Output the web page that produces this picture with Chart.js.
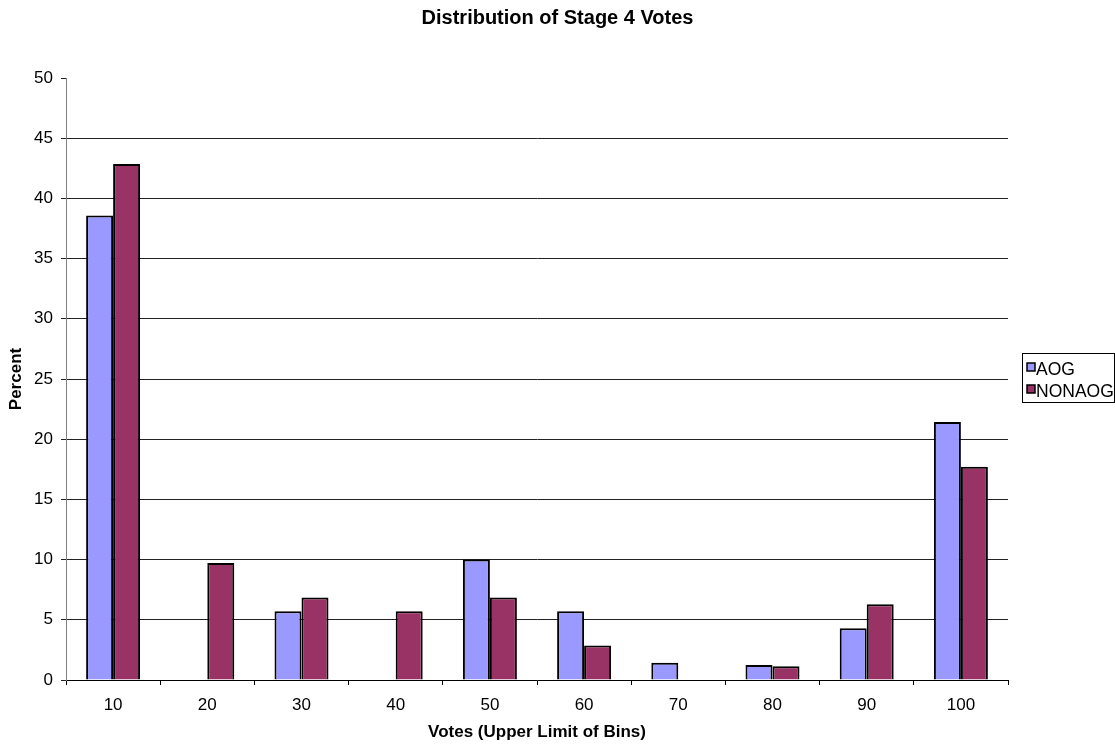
<!DOCTYPE html>
<html>
<head>
<meta charset="utf-8">
<script src="https://cdn.jsdelivr.net/npm/chart.js@4/dist/chart.umd.min.js"></script>
<style>
  html, body { margin: 0; padding: 0; background: #fff; }
  #wrap { width: 1115px; height: 746px; }
</style>
</head>
<body>
<div id="wrap"><canvas id="c" width="1115" height="746"></canvas></div>
<script>
// Bin upper limits (x categories)
const binLabels = ['10', '20', '30', '40', '50', '60', '70', '80', '90', '100'];
// Percent of votes per bin
const aogPercent    = [38.57, 0, 5.71, 0, 10.0, 5.71, 1.43, 1.25, 4.29, 21.43];
const nonaogPercent = [42.86, 9.71, 6.86, 5.71, 6.86, 2.86, 0, 1.14, 6.29, 17.71];
const seriesNames = ['AOG', 'NONAOG'];
const seriesColors = ['#9999FF', '#993366'];
const chartTitle = 'Distribution of Stage 4 Votes';

const FONT = "'Liberation Sans', Arial, sans-serif";

// Title centred on the full canvas width
const pageTitle = {
  id: 'pageTitle',
  afterDraw(chart) {
    const ctx = chart.ctx;
    ctx.save();
    ctx.font = 'bold 20px ' + FONT;
    ctx.fillStyle = '#000';
    ctx.textAlign = 'center';
    ctx.textBaseline = 'middle';
    ctx.fillText(chartTitle, chart.width / 2, 18);
    ctx.restore();
  }
};

// Boxed legend on the right, drawn from the datasets
const boxedLegend = {
  id: 'boxedLegend',
  afterDraw(chart) {
    const ctx = chart.ctx;
    const x0 = 1022, y0 = 353, w = 92, h = 49;
    ctx.save();
    ctx.strokeStyle = '#000';
    ctx.lineWidth = 1;
    ctx.strokeRect(x0 + 0.5, y0 + 0.5, w, h);
    ctx.font = '17.5px ' + FONT;
    ctx.textBaseline = 'alphabetic';
    ctx.textAlign = 'left';
    chart.data.datasets.forEach((ds, i) => {
      const rowBase = 375 + i * 22;
      ctx.fillStyle = ds.backgroundColor;
      ctx.fillRect(1027, rowBase - 12, 8, 8);
      ctx.strokeStyle = '#000';
      ctx.lineWidth = 1.5;
      ctx.strokeRect(1027, rowBase - 12, 8, 8);
      ctx.fillStyle = '#000';
      ctx.fillText(ds.label, 1036, rowBase);
    });
    ctx.restore();
  }
};

new Chart(document.getElementById('c'), {
  type: 'bar',
  data: {
    labels: binLabels,
    datasets: [
      { label: seriesNames[0], data: aogPercent, backgroundColor: seriesColors[0],
        borderColor: '#000', borderWidth: 2 },
      { label: seriesNames[1], data: nonaogPercent, backgroundColor: seriesColors[1],
        borderColor: '#000', borderWidth: 2 }
    ]
  },
  options: {
    responsive: false,
    animation: false,
    devicePixelRatio: 1,
    layout: { padding: { left: 0, right: 107, top: 78, bottom: 0 } },
    datasets: { bar: { categoryPercentage: 0.573, barPercentage: 1.0 } },
    plugins: {
      legend: { display: false },
      tooltip: { enabled: false },
      title: { display: false }
    },
    scales: {
      x: {
        grid: { display: true, drawOnChartArea: false, offset: true, tickLength: 5,
                color: '#000', tickColor: '#000' },
        border: { display: true, color: '#000', width: 1 },
        ticks: { color: '#000', font: { family: FONT, size: 17 }, padding: 10, maxRotation: 0 },
        title: { display: true, text: 'Votes (Upper Limit of Bins)', color: '#000',
                 font: { family: FONT, size: 17, weight: 'bold' }, padding: { top: 0, bottom: 3 } },
        afterFit(scale) { scale.height = 66; }
      },
      y: {
        min: 0, max: 50,
        grid: {
          tickLength: 5,
          color: (ctx) => (ctx.tick && (ctx.tick.value === 50 || ctx.tick.value === 0)) ? 'rgba(0,0,0,0)' : '#222',
          tickColor: '#222'
        },
        border: { display: true, color: '#808080', width: 1 },
        ticks: { stepSize: 5, color: '#000', font: { family: FONT, size: 17 }, padding: 8 },
        title: { display: true, text: 'Percent', color: '#000',
                 font: { family: FONT, size: 17, weight: 'bold' }, padding: { top: 6, bottom: 0 } },
        afterFit(scale) { scale.width = 66; }
      }
    }
  },
  plugins: [pageTitle, boxedLegend]
});
</script>
</body>
</html>
